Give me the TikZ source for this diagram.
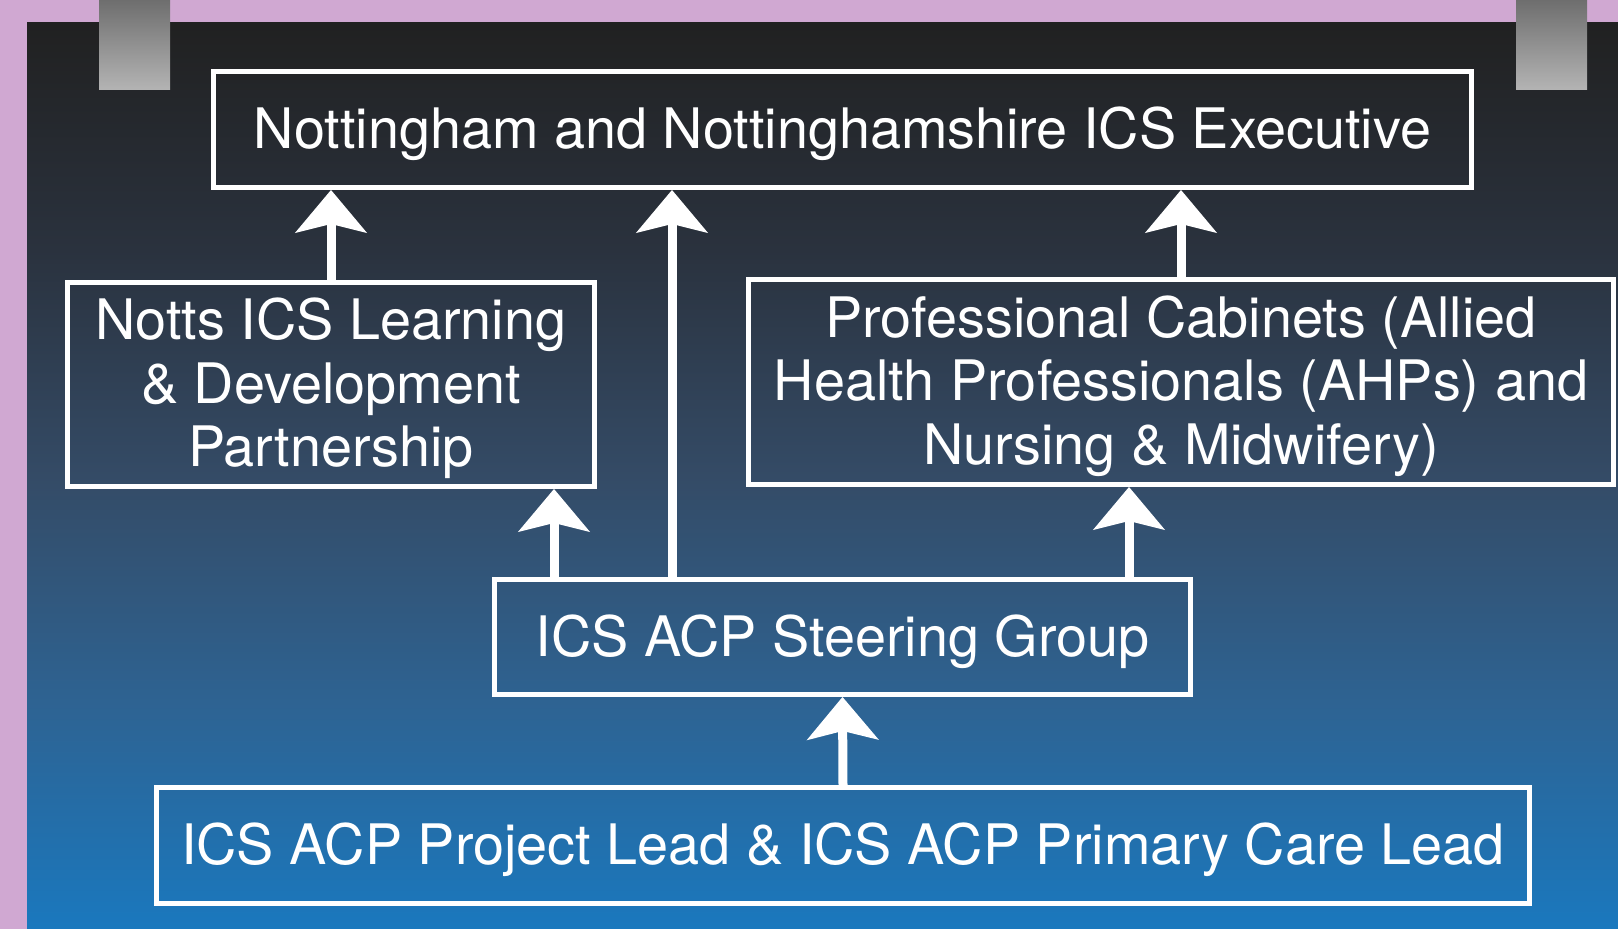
\documentclass[tikz,border=0pt]{standalone}
\usepackage{fontspec}
\setmainfont{TeX Gyre Heros}
\usetikzlibrary{arrows.meta}

\definecolor{frame}{RGB}{208,168,210}
\definecolor{tabtop}{RGB}{110,110,110}
\definecolor{tabbot}{RGB}{180,180,180}

% dark grey at the top, slate in the middle, blue at the bottom
\pgfdeclareverticalshading{backdrop}{100bp}{%
  rgb(0bp)=(0.102,0.471,0.745);
  rgb(25bp)=(0.102,0.471,0.745);
  rgb(37.5bp)=(0.180,0.388,0.573);
  rgb(50bp)=(0.204,0.294,0.400);
  rgb(62.5bp)=(0.165,0.196,0.243);
  rgb(75bp)=(0.129,0.129,0.129);
  rgb(100bp)=(0.129,0.129,0.129)}

\begin{document}
\begin{tikzpicture}[x=0.5pt,y=-0.5pt,
  box/.style={draw=white,line width=2.5pt,text=white,align=center,inner sep=0pt,
    font=\fontsize{27.9}{31.75}\selectfont,text height=25.5pt},
  tall/.style={text height=88.5pt},
  up/.style={draw=white,line width=4.5pt,
    -{Stealth[length=21.5pt,width=36pt,inset=4.5pt,line width=1pt]}}]

  % backdrop and the two clips at the top
  \fill[frame] (0,0) rectangle (1618,929);
  \shade[shading=backdrop] (27,23) rectangle (1618,929);
  \shade[top color=tabtop,bottom color=tabbot] (99,0) rectangle (170,90);
  \shade[top color=tabtop,bottom color=tabbot] (1516,0) rectangle (1587,90);

  \node[box,minimum width=629pt,minimum height=58pt] (exec) at (842.5,129.5)
    {Nottingham and Nottinghamshire ICS Executive};
  \node[box,tall,minimum width=263.5pt,minimum height=102pt] (ld) at (331,384.5)
    {Notts ICS Learning\\ \& Development\\ Partnership};
  \node[box,tall,minimum width=432.5pt,minimum height=102.5pt] (prof) at (1181,382)
    {Professional Cabinets (Allied\\ Health Professionals (AHPs) and\\ Nursing \& Midwifery)};
  \node[box,minimum width=348pt,minimum height=57.5pt] (steer) at (842.5,637)
    {ICS ACP Steering Group};
  \node[box,minimum width=686.5pt,minimum height=58pt] (lead) at (843,845.5)
    {ICS ACP Project Lead \& ICS ACP Primary Care Lead};

  \coordinate (ldx) at (554,0);
  \coordinate (exx) at (672,0);
  \coordinate (prx) at (1129,0);

  \draw[up] (ld.north) -- (ld.north |- exec.south);
  \draw[up] (prof.north) -- (prof.north |- exec.south);
  \draw[up] (steer.north -| exx) -- (exec.south -| exx);
  \draw[up] (steer.north -| ldx) -- (ld.south -| ldx);
  \draw[up] (steer.north -| prx) -- (prof.south -| prx);
  \draw[up] (lead.north) -- (steer.south);
\end{tikzpicture}
\end{document}
